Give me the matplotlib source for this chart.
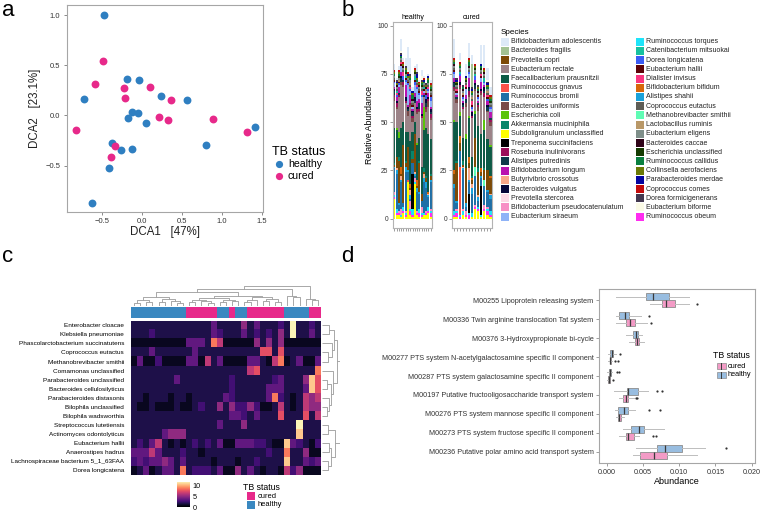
import matplotlib
matplotlib.use("Agg")
import matplotlib.pyplot as plt
from matplotlib.patches import Rectangle
from matplotlib.colors import ListedColormap
import numpy as np

plt.rcParams['font.family'] = ['Liberation Sans', 'DejaVu Sans']

W, H = 760, 511
BLUE = '#2f7fc1'
PINK = '#e7298a'

# ---------------- panel a: DCA ordination ----------------
healthy_dca1 = [-0.475, -0.729, -0.188, -0.033, 0.242, 0.563, -0.117, -0.054, -0.167,
                0.050, 1.413, 0.800, -0.379, -0.263, -0.121, -0.408, -0.621]
healthy_dca2 = [0.997, 0.160, 0.360, 0.353, 0.197, 0.153, 0.030, 0.020, -0.023,
                -0.073, -0.113, -0.293, -0.273, -0.347, -0.333, -0.520, -0.877]
cured_dca1 = [-0.483, -0.592, -0.217, -0.213, 0.108, 0.363, 0.213, 0.325, 0.892,
              1.313, -0.829, -0.338, -0.388]
cured_dca2 = [0.537, 0.313, 0.270, 0.170, 0.283, 0.150, -0.020, -0.050, -0.037,
              -0.167, -0.147, -0.310, -0.413]

# ---------------- panel b: species composition ----------------
species = [
    'Bifidobacterium adolescentis', 'Bacteroides fragilis', 'Prevotella copri',
    'Eubacterium rectale', 'Faecalibacterium prausnitzii', 'Ruminococcus gnavus',
    'Ruminococcus bromii', 'Bacteroides uniformis', 'Escherichia coli',
    'Akkermansia muciniphila', 'Subdoligranulum unclassified', 'Treponema succinifaciens',
    'Roseburia inulinivorans', 'Alistipes putredinis', 'Bifidobacterium longum',
    'Butyrivibrio crossotus', 'Bacteroides vulgatus', 'Prevotella stercorea',
    'Bifidobacterium pseudocatenulatum', 'Eubacterium siraeum', 'Ruminococcus torques',
    'Catenibacterium mitsuokai', 'Dorea longicatena', 'Eubacterium hallii',
    'Dialister invisus', 'Bifidobacterium bifidum', 'Alistipes shahii',
    'Coprococcus eutactus', 'Methanobrevibacter smithii', 'Lactobacillus ruminis',
    'Eubacterium eligens', 'Bacteroides caccae', 'Escherichia unclassified',
    'Ruminococcus callidus', 'Collinsella aerofaciens', 'Parabacteroides merdae',
    'Coprococcus comes', 'Dorea formicigenerans', 'Eubacterium biforme',
    'Ruminococcus obeum']
species_colors = [
    '#dde9f7', '#a3c293', '#7d4a06', '#9c8388', '#0d5a45', '#fb5348',
    '#1f6fa6', '#7a4a48', '#5bc40c', '#08866b', '#ffff00', '#000000',
    '#9c0f5a', '#0f3b4a', '#b813b0', '#f9a88a', '#07073a', '#fcd9e5',
    '#f78fc5', '#8fb3f7', '#1ee4fa', '#17c1a0', '#3b5cf5', '#5d0207',
    '#f93680', '#d8670a', '#1aa2da', '#5e5d56', '#5ffcb4', '#b99868',
    '#7f8f8a', '#2f0318', '#153b02', '#0a8040', '#6b7a05', '#0505a0',
    '#c30c0c', '#433850', '#fafae5', '#ff2cf0']
healthy_rows = [
    "3 1 2 6 1 4 12 8 2 1 4 1 3 1 0 1 2",
    "0 0 0 0 0 0 0 0 0 0 0 0 0 0 0 0 0",
    "1 6 22 1 30 2 12 1 2 20 1 15 4 1 2 0 2",
    "14 10 18 22 18 15 8 18 5 10 15 13 25 5 8 14 10",
    "18 14 10 20 12 15 8 22 10 6 18 12 14 20 25 30 18",
    "0 0 0 0 0 0 1 0 0 0 0 0 0 0 0 0 0",
    "12 18 3 14 2 20 4 1 6 1 10 8 3 16 12 5 14",
    "2 1 0 2 1 0 3 1 2 0 1 1 0 0 2 3 1",
    "0 1 3 0 0 0 0 0 0 0 1 0 0 12 0 0 0",
    "1 0 2 0 0 1 0 0 4 0 0 1 0 2 1 0 1",
    "10 2 2 1 3 1 19 2 1 18 2 1 1 2 2 3 1",
    "0 0 0 0 0 0 0 0 18 0 0 0 0 0 0 0 0",
    "1 2 1 0 2 1 0 1 1 0 2 1 1 0 1 1 2",
    "2 0 1 2 1 0 1 0 2 1 0 3 0 1 2 0 1",
    "1 2 3 2 0 6 1 4 1 2 3 2 6 1 0 2 1",
    "0 1 0 2 0 0 0 3 0 1 0 0 0 2 0 1 0",
    "1 1 0 1 0 2 1 0 1 2 1 0 1 0 2 1 2",
    "0 0 0 0 1 0 0 0 0 0 0 0 0 0 0 0 0",
    "2 0 1 3 0 1 0 4 0 2 1 0 3 0 1 0 1",
    "2 0 1 3 0 2 10 2 1 4 6 2 3 1 0 1 3",
    "1 2 0 1 2 1 0 1 3 1 0 2 1 1 0 2 1",
    "0 1 0 0 0 1 0 0 0 2 0 0 0 1 0 0 0",
    "1 1 1 0 2 1 1 1 0 2 1 1 1 0 2 1 2",
    "1 0 1 1 0 1 1 0 1 1 0 1 0 1 1 0 1",
    "0 1 0 1 2 0 0 1 0 0 1 0 2 0 0 1 0",
    "0 0 0 4 0 0 0 2 0 0 3 0 0 0 0 1 0",
    "1 2 1 1 0 3 1 2 0 1 2 1 0 2 3 1 1",
    "1 1 0 1 1 0 1 1 1 0 1 1 1 1 0 1 1",
    "0 0 0 0 0 0 0 0 0 0 0 0 0 0 0 0 0",
    "0 0 1 0 0 0 0 1 0 0 0 0 0 0 1 0 0",
    "1 1 1 1 1 1 1 2 1 1 1 1 1 1 1 1 1",
    "0 1 0 0 1 0 0 0 1 0 0 1 0 0 1 0 0",
    "0 0 1 0 0 1 0 0 0 1 0 0 1 0 0 0 1",
    "1 0 1 1 0 1 0 1 2 0 1 0 1 1 0 2 1",
    "1 1 1 0 1 1 1 1 1 1 1 1 1 0 1 1 1",
    "0 1 0 1 0 0 1 0 1 0 2 0 0 1 0 1 0",
    "1 0 1 0 1 0 1 0 0 1 0 1 0 1 0 0 1",
    "0 1 0 1 0 1 0 1 0 0 1 0 1 0 1 0 0",
    "0 0 0 1 0 0 1 0 0 0 0 0 2 0 0 0 0",
    "1 1 1 0 1 1 0 2 1 0 1 2 1 0 1 1 2"]
cured_rows = [
    "10 0 4 0 6 8 5 0 0 10 12 6 4",
    "0 0 0 0 0 0 12 0 0 0 0 0 0",
    "5 20 4 1 18 3 2 15 12 2 5 10 8",
    "15 10 12 15 14 10 20 10 8 20 12 14 10",
    "25 20 10 12 15 20 10 12 22 18 20 16 15",
    "0 0 25 0 0 0 0 0 0 0 0 0 0",
    "12 3 8 20 2 6 10 15 3 4 10 8 6",
    "1 2 1 0 2 1 0 1 2 1 0 1 2",
    "1 0 2 0 3 1 0 2 0 0 5 0 1",
    "0 1 0 2 0 0 1 0 2 0 1 0 0",
    "1 1 0 2 1 0 1 5 4 1 4 2 1",
    "0 0 0 0 0 10 0 0 0 15 0 0 0",
    "1 0 1 1 0 2 1 0 1 1 2 0 1",
    "2 1 0 1 2 1 0 2 1 0 1 2 1",
    "2 1 3 1 2 5 1 2 1 4 1 2 3",
    "0 0 0 1 0 6 2 0 1 0 0 0 1",
    "1 0 2 1 0 1 2 1 0 1 2 1 0",
    "0 0 0 0 0 0 0 0 0 0 0 0 0",
    "0 1 0 1 2 0 0 1 0 0 2 1 0",
    "2 1 0 1 3 2 1 0 1 2 1 0 2",
    "2 1 1 2 0 1 2 0 1 1 0 1 2",
    "0 0 1 0 0 0 0 1 0 0 2 0 0",
    "1 0 1 1 0 1 1 2 1 0 1 1 1",
    "1 1 0 1 1 0 1 0 1 1 0 1 0",
    "0 1 0 0 1 0 2 0 0 1 0 1 0",
    "2 0 4 0 0 3 1 0 0 2 0 0 1",
    "2 1 0 1 2 1 3 0 2 1 0 1 2",
    "1 1 1 0 1 1 1 1 0 1 1 1 1",
    "0 0 0 0 0 0 0 5 0 0 3 0 0",
    "0 0 0 1 0 0 1 0 0 0 0 1 0",
    "1 1 1 1 1 1 1 1 1 1 1 1 1",
    "1 0 0 1 0 1 0 0 1 0 1 0 0",
    "0 1 0 0 1 0 0 1 0 1 0 0 1",
    "1 0 1 1 0 2 1 0 1 1 0 1 1",
    "1 1 1 0 1 1 1 1 1 0 1 1 1",
    "0 1 0 0 1 0 1 0 0 1 0 1 0",
    "1 0 1 0 0 1 0 1 0 0 1 0 1",
    "0 1 0 1 0 0 1 0 1 0 0 1 0",
    "0 0 1 0 0 0 0 0 0 0 0 1 0",
    "1 2 1 0 1 2 0 1 1 0 1 2 1"]
# stacking order, bottom to top (1-based position in the species list)
stack_order = [11, 40, 21, 12, 19, 6, 7, 27, 29, 16, 3, 26, 10, 5, 9, 4, 8, 13, 14, 17,
               15, 20, 23, 24, 25, 22, 28, 30, 31, 32, 33, 34, 35, 36, 37, 38, 39, 18, 2, 1]

# ---------------- panel c: heatmap ----------------
heat_species = [
    'Enterobacter cloacae', 'Klebsiella pneumoniae', 'Phascolarctobacterium succinatutens',
    'Coprococcus eutactus', 'Methanobrevibacter smithii', 'Comamonas unclassified',
    'Parabacteroides unclassified', 'Bacteroides cellulosilyticus', 'Parabacteroides distasonis',
    'Bilophila unclassified', 'Bilophila wadsworthia', 'Streptococcus lutetiensis',
    'Actinomyces odontolyticus', 'Eubacterium hallii', 'Anaerostipes hadrus',
    'Lachnospiraceae bacterium 5_1_63FAA', 'Dorea longicatena']
heat_rows = [
    "11111 11111 11131 11141 31112 19112 1",
    "11121 11111 11132 11131 21214 19113 1",
    "00000 00003 33175 00000 41414 00000 0",
    "11131 11111 31111 11111 16616 11111 1",
    "03002 00003 30513 00003 31057 01300 3",
    "11111 11111 11111 11115 61111 11111 7",
    "11111 11311 11111 12111 11123 11148 6",
    "11111 11111 11111 12111 11333 11138 6",
    "11011 10110 11111 32111 11372 10154 5",
    "10010 00100 12114 14224 20015 10154 4",
    "11111 11111 11111 13321 31116 11161 5",
    "11111 11111 11113 11141 11111 11911 1",
    "11111 34441 11111 11111 11111 11811 1",
    "12135 10101 21213 00333 22100 83210 2",
    "33353 11121 10111 11111 11211 71140 0",
    "23233 43131 11101 11011 21111 81132 3",
    "01301 33171 22213 00413 10110 52400 0"]
heat_levels = [0.7, 1.5, 2.5, 3.4, 4.7, 6.0, 7.1, 8.3, 10.2, 11.3]
col_status = "HHHHHHHHHCCCCCHHCHHCCCCCCHHHHCC"
# dendrograms: (height, left, right), leaves are column / row indices
col_tree = (1.0,
            (0.85,
             (0.7,
              (0.42, (0.3, (0.15, 0, 1), (0.2, 2, 3)),
                     (0.32, (0.2, 4, 5), (0.25, 6, (0.15, 7, 8)))),
              (0.5, (0.4, (0.3, (0.2, 9, 10), (0.25, 11, (0.12, 12, 13))),
                          (0.3, (0.2, 14, 15), (0.22, 16, 17))),
                    (0.42, (0.3, (0.2, 18, 19), 20), (0.35, (0.25, 21, 22), (0.2, 23, 24))))),
             (0.5, 25, (0.45, 26, 27))),
            (0.35, 28, (0.3, 29, 30)))
row_tree = (1.0,
            (0.85,
             (0.7, (0.4, 0, 1), (0.55, 2, (0.35, 3, 4))),
             (0.6, 5, (0.5, (0.3, 6, 7), (0.4, 8, (0.3, 9, 10))))),
            (0.75, (0.35, 11, 12), (0.5, (0.4, 13, 14), (0.35, 15, 16))))

# ---------------- panel d: KEGG modules ----------------
modules = [
    'M00255 Lipoprotein releasing system',
    'M00336 Twin arginine translocation Tat system',
    'M00376 3-Hydroxypropionate bi-cycle',
    'M00277 PTS system N-acetylgalactosamine specific II component',
    'M00287 PTS system galactosamine specific II component',
    'M00197 Putative fructooligosaccharide transport system',
    'M00276 PTS system mannose specific II component',
    'M00273 PTS system fructose specific II component',
    'M00236 Putative polar amino acid transport system']
h_lo = [0.0013, 0.0013, 0.0027, 0.0002, 0.0001, 0.0010, 0.0011, 0.0022, 0.0041]
h_q1 = [0.0054, 0.0017, 0.0036, 0.0005, 0.0003, 0.0028, 0.0015, 0.0033, 0.0070]
h_med = [0.0064, 0.0025, 0.0040, 0.0007, 0.00045, 0.0030, 0.0024, 0.0045, 0.0080]
h_q3 = [0.0086, 0.0031, 0.0043, 0.0009, 0.0006, 0.0043, 0.0030, 0.0051, 0.0104]
h_hi = [0.0113, 0.0048, 0.0049, 0.0013, 0.0008, 0.0057, 0.0039, 0.0079, 0.0135]
h_out = [[], [0.0059], [], [0.0018], [0.0014, 0.0017], [0.0070, 0.0076],
         [0.0058, 0.0073], [], [0.0164]]
c_lo = [0.0060, 0.0013, 0.0031, 0.0002, 0.00005, 0.0017, 0.0013, 0.0017, 0.0036]
c_q1 = [0.0076, 0.0026, 0.0039, 0.0004, 0.0002, 0.0023, 0.0015, 0.0026, 0.0046]
c_med = [0.0082, 0.0032, 0.0042, 0.0005, 0.0003, 0.0026, 0.0017, 0.0030, 0.0065]
c_q3 = [0.0094, 0.0039, 0.0045, 0.0006, 0.0004, 0.0030, 0.0020, 0.0037, 0.0083]
c_hi = [0.0113, 0.0055, 0.0052, 0.0008, 0.0005, 0.0037, 0.0024, 0.0045, 0.0125]
c_out = [[0.0125], [0.0061], [], [0.0012, 0.0015], [0.0009], [0.0041, 0.0042],
         [], [0.0064, 0.0068], []]


def rect(l, t, r, b):
    return [l / W, 1 - b / H, (r - l) / W, (b - t) / H]


def grey_frame(ax, color='#a6a6a6'):
    for s in ax.spines.values():
        s.set_color(color)
        s.set_linewidth(0.8)


fig = plt.figure(figsize=(W / 100, H / 100), dpi=100)
ov = fig.add_axes([0, 0, 1, 1], zorder=20)
ov.set_xlim(0, W)
ov.set_ylim(H, 0)
ov.axis('off')

for letter, x, y in [('a', 2, 10), ('b', 342, 10), ('c', 2, 257), ('d', 341, 257)]:
    ov.text(x, y, letter, fontsize=16, va='center', ha='left')

# ---- a
axA = fig.add_axes(rect(66.7, 5, 263.3, 211.7))
axA.scatter(healthy_dca1, healthy_dca2, s=32, color=BLUE, linewidths=0, zorder=3)
axA.scatter(cured_dca1, cured_dca2, s=32, color=PINK, linewidths=0, zorder=3)
axA.set_xlim(-0.94, 1.52)
axA.set_ylim(-0.96, 1.10)
axA.set_xticks([-0.5, 0.0, 0.5, 1.0, 1.5])
axA.set_yticks([-0.5, 0.0, 0.5, 1.0])
axA.tick_params(labelsize=5.5, length=2.5, width=0.6, color='#777777',
                labelcolor='#333333', pad=2)
axA.set_xlabel('DCA1   [47%]', fontsize=8.3, labelpad=1, color='#222222')
axA.set_ylabel('DCA2   [23.1%]', fontsize=8.3, labelpad=3, color='#222222')
grey_frame(axA)

ov.text(272, 152, 'TB status', fontsize=9, va='center', ha='left')
for lab, col, y in [('healthy', BLUE, 164), ('cured', PINK, 176)]:
    ov.plot([279], [y], 'o', ms=5.2, color=col, mec='none')
    ov.text(288, y, lab, fontsize=7.6, va='center', ha='left')

# ---- b
panels_b = [('healthy', healthy_rows, rect(393, 22, 432, 228)),
            ('cured', cured_rows, rect(452, 22, 492, 228))]
for title, rows, r in panels_b:
    axb = fig.add_axes(r)
    mat = np.array([[float(v) for v in row.split()] for row in rows])
    n = mat.shape[1]
    xs = np.arange(n)
    bottom = np.zeros(n)
    for k in stack_order:
        vals = mat[k - 1]
        axb.bar(xs, vals, bottom=bottom, width=0.9, color=species_colors[k - 1], linewidth=0)
        bottom += vals
    axb.set_xlim(-0.6, n - 0.4)
    axb.set_ylim(-4.85, 101.85)
    axb.set_xticks(xs)
    axb.set_xticklabels([])
    axb.set_yticks([0, 25, 50, 75, 100])
    axb.tick_params(labelsize=4.8, length=2, width=0.5, color='#777777',
                    labelcolor='#333333', pad=1.5)
    axb.set_title(title, fontsize=5, pad=2.5)
    grey_frame(axb, '#b3b3b3')
    if title == 'healthy':
        axb.set_ylabel('Relative Abundance', fontsize=6.3, labelpad=2.5)

ov.text(500.5, 32, 'Species', fontsize=5.8, va='center', ha='left')
for i, (name, col) in enumerate(zip(species, species_colors)):
    cx = 500.7 if i < 20 else 635.7
    cy = 41.7 + (i % 20) * 9.21
    ov.add_patch(Rectangle((cx, cy - 4), 8.6, 8, facecolor=col, edgecolor='none'))
    ov.text(cx + 10.3, cy, name, fontsize=5, va='center', ha='left', color='#222222')

# ---- c
heat = np.array([[heat_levels[int(ch)] for ch in row.replace(' ', '')] for row in heat_rows])
assert heat.shape == (17, 31), heat.shape
axHeat = fig.add_axes(rect(131, 320.7, 321, 475))
axHeat.imshow(heat, cmap='magma', vmin=0, vmax=11.5, aspect='auto', interpolation='nearest')
axHeat.set_xticks([])
axHeat.set_yticks(range(len(heat_species)))
axHeat.set_yticklabels(heat_species, fontsize=4.6)
axHeat.tick_params(axis='y', length=0, pad=5)
for s in axHeat.spines.values():
    s.set_visible(False)

axAnn = fig.add_axes(rect(131, 306.7, 321, 318.3))
ann = np.array([[0 if c == 'C' else 1 for c in col_status]])
axAnn.imshow(ann, cmap=ListedColormap([PINK, '#3a88c0']), aspect='auto',
             interpolation='nearest', vmin=0, vmax=1)
axAnn.axis('off')


def draw_tree(ax, node, top):
    if isinstance(node, int):
        return node + 0.5, 0.0
    h, left, right = node
    p1, h1 = draw_tree(ax, left, top)
    p2, h2 = draw_tree(ax, right, top)
    xs, ys = [p1, p1, p2, p2], [h1, h, h, h2]
    if top:
        ax.plot(xs, ys, color='#9a9a9a', lw=0.6, solid_capstyle='butt')
    else:
        ax.plot(ys, xs, color='#9a9a9a', lw=0.6, solid_capstyle='butt')
    return (p1 + p2) / 2, h


axCD = fig.add_axes(rect(131, 286, 321, 305.5))
draw_tree(axCD, col_tree, True)
axCD.set_xlim(0, 31)
axCD.set_ylim(0, 1.02)
axCD.axis('off')

axRD = fig.add_axes(rect(322, 320.7, 340, 475))
draw_tree(axRD, row_tree, False)
axRD.set_ylim(17, 0)
axRD.set_xlim(0, 1.02)
axRD.axis('off')

axCB = fig.add_axes(rect(177, 482, 190, 507.5))
grad = np.linspace(0, 11.5, 100).reshape(-1, 1)
axCB.imshow(grad, cmap='magma', vmin=0, vmax=11.5, aspect='auto', origin='lower',
            extent=[0, 1, 0, 11.5])
axCB.set_xticks([])
axCB.yaxis.tick_right()
axCB.set_yticks([0, 5, 10])
axCB.tick_params(axis='y', labelsize=5.2, length=0, pad=2)
for s in axCB.spines.values():
    s.set_visible(False)

ov.text(243, 487, 'TB status', fontsize=6.3, va='center', ha='left')
for lab, col, y in [('cured', PINK, 496.5), ('healthy', '#3a88c0', 504.8)]:
    ov.add_patch(Rectangle((247, y - 4), 8, 8, facecolor=col, edgecolor='none'))
    ov.text(257.5, y, lab, fontsize=5.4, va='center', ha='left')

# ---- d
axD = fig.add_axes(rect(599, 289, 755, 463))
H_FACE, C_FACE = '#98bde0', '#f39bc6'


def stats(lo, q1, med, q3, hi, out):
    return [dict(whislo=a, q1=b, med=c, q3=d, whishi=e, fliers=f)
            for a, b, c, d, e, f in zip(lo, q1, med, q3, hi, out)]


pos = np.arange(len(modules))
for st, off, face in [(stats(h_lo, h_q1, h_med, h_q3, h_hi, h_out), -0.1875, H_FACE),
                      (stats(c_lo, c_q1, c_med, c_q3, c_hi, c_out), 0.1875, C_FACE)]:
    axD.bxp(st, positions=pos + off, widths=0.37, orientation='horizontal',
            patch_artist=True, showcaps=False,
            boxprops=dict(facecolor=face, edgecolor='#8c8c8c', linewidth=0.6),
            medianprops=dict(color='#3a3a3a', linewidth=0.9),
            whiskerprops=dict(color='#bdbdbd', linewidth=0.7),
            flierprops=dict(marker='o', markersize=1.6, markerfacecolor='#333333',
                            markeredgecolor='none'))
axD.set_ylim(8.6, -0.6)
axD.set_xlim(-0.00106, 0.02046)
axD.set_yticks(pos)
axD.set_yticklabels(modules, fontsize=5.2)
axD.set_xticks([0.0, 0.005, 0.010, 0.015, 0.020])
axD.set_xticklabels(['0.000', '0.005', '0.010', '0.015', '0.020'])
axD.tick_params(labelsize=5.2, length=2, width=0.5, color='#777777',
                labelcolor='#333333', pad=2)
axD.tick_params(axis='y', labelsize=5.2)
axD.set_xlabel('Abundance', fontsize=6.5, labelpad=1)
grey_frame(axD)

ov.text(713, 356, 'TB status', fontsize=6.3, va='center', ha='left')
for lab, face, y in [('cured', C_FACE, 366), ('healthy', H_FACE, 375)]:
    ov.add_patch(Rectangle((716.5, y - 2.8), 9, 5.6, facecolor=face, edgecolor='#8c8c8c', lw=0.5))
    ov.plot([721, 721], [y - 2.8, y + 2.8], color='#3a3a3a', lw=0.7)
    ov.text(728, y, lab, fontsize=5.3, va='center', ha='left')

fig.savefig('out.png', dpi=100)
